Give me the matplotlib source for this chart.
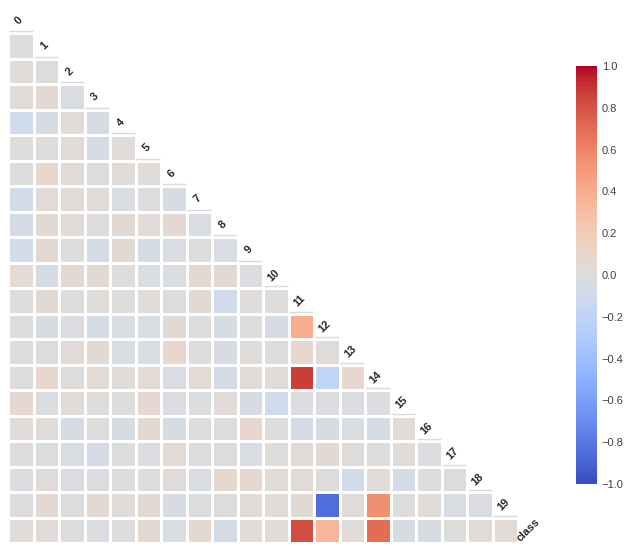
import numpy as np
import matplotlib
matplotlib.use("Agg")
import matplotlib.pyplot as plt
import seaborn as sns

sns.set_style("white")
plt.rcParams['font.family'] = ['Liberation Sans', 'DejaVu Sans']

row_labels = [str(i) for i in range(1, 20)] + ["class"]
col_labels = [str(i) for i in range(0, 20)]
diag_labels = [str(i) for i in range(0, 20)] + ["class"]
cbar_ticks = [-1.0, -0.8, -0.6, -0.4, -0.2, 0.0, 0.2, 0.4, 0.6, 0.8, 1.0]

r1 = [0.0]
r2 = [0.02, 0.0]
r3 = [0.03, 0.06, -0.03]
r4 = [-0.1, -0.04, 0.03, -0.04]
r5 = [0.01, 0.01, 0.03, -0.05, 0.03]
r6 = [0.0, 0.08, 0.02, 0.01, 0.02, 0.02]
r7 = [-0.08, 0.03, 0.03, 0.03, -0.03, 0.0, -0.04]
r8 = [-0.07, 0.05, 0.03, 0.01, 0.05, 0.03, 0.06, -0.03]
r9 = [-0.08, 0.05, 0.0, -0.07, 0.05, -0.05, -0.03, 0.01, -0.03]
r10 = [0.04, -0.04, 0.05, 0.05, 0.0, -0.03, -0.03, 0.05, 0.05, -0.02]
r11 = [0.01, 0.05, 0.01, 0.02, 0.01, 0.02, 0.0, 0.05, -0.1, 0.02, 0.01]
r12 = [0.0, -0.04, -0.02, -0.06, -0.03, -0.03, 0.05, 0.01, -0.04, 0.0, -0.04, 0.4]
r13 = [0.0, 0.0, 0.03, 0.05, -0.03, -0.03, 0.08, 0.01, -0.04, 0.02, 0.01, 0.08, 0.02]
r14 = [0.0, 0.08, 0.01, 0.04, 0.02, 0.04, -0.03, 0.04, -0.07, 0.02, 0.02, 0.87, -0.2, 0.08]
r15 = [0.07, -0.02, 0.02, 0.01, 0.01, 0.07, -0.02, -0.01, 0.03, -0.04, -0.1, -0.02, -0.02, -0.02, -0.02]
r16 = [0.03, 0.03, -0.05, 0.0, -0.04, 0.06, -0.05, 0.0, 0.01, 0.08, 0.01, -0.06, -0.04, -0.03, -0.05, 0.03]
r17 = [0.0, -0.01, -0.03, -0.07, 0.0, -0.02, 0.04, 0.0, 0.01, -0.03, 0.01, 0.03, 0.05, 0.01, 0.01, 0.02, -0.02]
r18 = [-0.02, 0.03, -0.02, -0.02, -0.02, 0.0, 0.03, -0.03, 0.08, 0.07, 0.02, 0.04, 0.01, -0.08, 0.02, -0.06, 0.01, 0.02]
r19 = [0.0, 0.06, 0.01, 0.06, 0.03, 0.05, -0.04, 0.0, 0.01, 0.02, 0.03, 0.05, -0.85, 0.02, 0.55, 0.01, 0.02, -0.03, -0.02]
r_class = [0.03, 0.03, 0.0, -0.02, 0.0, 0.05, -0.03, 0.07, -0.06, 0.02, 0.03, 0.82, 0.35, 0.03, 0.7, -0.04, -0.04, 0.01, 0.04, 0.04]

rows = [r1, r2, r3, r4, r5, r6, r7, r8, r9, r10, r11, r12, r13, r14, r15,
        r16, r17, r18, r19, r_class]

n = len(col_labels)
mat = np.full((len(rows), n), np.nan)
for i, r in enumerate(rows):
    mat[i, :len(r)] = r
mask = np.isnan(mat)

W, H = 630, 550
fig = plt.figure(figsize=(W / 100, H / 100), dpi=100)
ax = fig.add_axes([8 / W, (H - 543) / H, 510 / W, 510 / H])
cax = fig.add_axes([576 / W, (H - 484) / H, 21 / W, 418 / H])

sns.heatmap(mat, mask=mask, cmap="coolwarm", vmin=-1, vmax=1, center=0,
            linewidths=1, linecolor="white", square=False,
            xticklabels=False, yticklabels=False, ax=ax, cbar_ax=cax)

# light line above diagonal cells
for k in range(len(rows)):
    ax.plot([k + 0.02, k + 0.98], [k - 0.07, k - 0.07], color="#dadada",
            lw=1.0, solid_capstyle="butt", clip_on=False)

for k, lab in enumerate(diag_labels):
    ax.text(k + 0.42, k - 0.5, lab, rotation=45, ha="center", va="center",
            fontsize=8, fontweight="bold", color="#262626", clip_on=False)

cax.set_yticks(cbar_ticks)
cax.set_yticklabels([f"{v:.1f}".replace("-", "\u2212") for v in cbar_ticks])
cax.tick_params(labelsize=8, length=0, colors="#404040")
for s in cax.spines.values():
    s.set_visible(False)

fig.savefig("out.png", dpi=100)
